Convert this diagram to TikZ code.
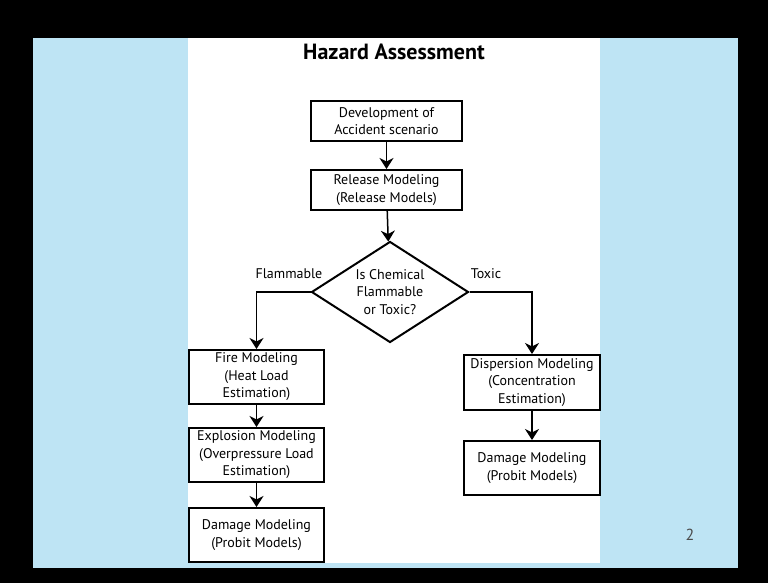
\documentclass[tikz,border=0pt]{standalone}
\usepackage{fontspec}
\setmainfont{PT Sans}
\usepackage{tikz}
\usetikzlibrary{arrows.meta,shapes.geometric}
\definecolor{slide}{HTML}{BEE4F4}
\definecolor{pageno}{HTML}{4A4A4A}

\begin{document}
\begin{tikzpicture}[x=1pt,y=-1pt,
  box/.style={draw,line width=2pt,align=center,inner sep=0pt,font=\fontsize{14}{17.5}\selectfont},
  flow/.style={-{Stealth[length=11pt,width=14pt,inset=3.5pt]},line width=1.5pt}]
% slide background
\fill[black] (0,0) rectangle (768,583);
\fill[slide] (33,38) rectangle (738,568);
\fill[white] (188,38) rectangle (600,563);
\node[font=\fontsize{22}{24}\selectfont\bfseries] (title) at (394,52) {Hazard Assessment};
\node[font=\fontsize{16}{18}\selectfont,pageno] (page) at (690,535) {2};
% main chain
\node[box,minimum width=151,minimum height=40] (dev) at (386.5,121) {Development of\\Accident scenario};
\node[box,minimum width=151,minimum height=40] (rel) at (386.5,190) {Release Modeling\\(Release Models)};
\node[box,diamond,aspect=1.55,minimum width=157,minimum height=101] (chem) at (390,292) {Is Chemical\\Flammable\\or Toxic?};
\node[font=\fontsize{14}{16}\selectfont] (flam) at (289,274) {Flammable};
\node[font=\fontsize{14}{16}\selectfont] (tox) at (486,274) {Toxic};
% flammable branch
\node[box,minimum width=135,minimum height=54] (fire) at (256.5,377) {Fire Modeling\\(Heat Load\\Estimation)};
\node[box,minimum width=135,minimum height=54] (expl) at (256.5,455) {Explosion Modeling\\(Overpressure Load\\Estimation)};
\node[box,minimum width=135,minimum height=54] (dmgl) at (256.5,535) {Damage Modeling\\(Probit Models)};
% toxic branch
\node[box,minimum width=136,minimum height=55] (disp) at (532,382.5) {Dispersion Modeling\\(Concentration\\Estimation)};
\node[box,minimum width=136,minimum height=54] (dmgr) at (532,468) {Damage Modeling\\(Probit Models)};
% connectors
\draw[flow] (dev) -- (rel);
\draw[flow] (rel) -- (chem);
\draw[flow] (chem.west) -| (fire.north);
\draw[flow] (chem.east) -| (disp.north);
\draw[flow] (fire) -- (expl);
\draw[flow] (expl) -- (dmgl);
\draw[flow] (disp) -- (dmgr);
\end{tikzpicture}
\end{document}
